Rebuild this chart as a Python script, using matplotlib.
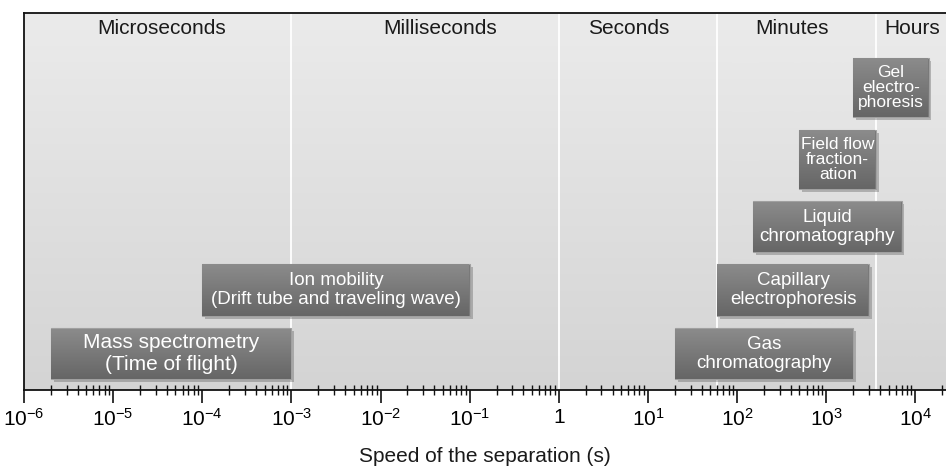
import numpy as np
import matplotlib
matplotlib.use("Agg")
import matplotlib.pyplot as plt
from matplotlib.patches import Rectangle
from matplotlib.ticker import FixedLocator, LogLocator, FuncFormatter, NullFormatter
import matplotlib.patheffects as pe

plt.rcParams['font.family'] = ['Liberation Sans', 'DejaVu Sans']
plt.rcParams['mathtext.fontset'] = 'custom'
plt.rcParams['mathtext.rm'] = 'Liberation Sans'
plt.rcParams['mathtext.it'] = 'Liberation Sans'
plt.rcParams['mathtext.bf'] = 'Liberation Sans'

# separation techniques and the time range (s) each one covers
methods = ["Mass spectrometry\n(Time of flight)",
           "Ion mobility\n(Drift tube and traveling wave)",
           "Gas\nchromatography",
           "Capillary\nelectrophoresis",
           "Liquid\nchromatography",
           "Field flow\nfraction-\nation",
           "Gel\nelectro-\nphoresis"]
t_min = [2e-6, 1e-4, 20, 60, 150, 500, 2000]
t_max = [1e-3, 1e-1, 2000, 3000, 7000, 3600, 14000]

# time scale bands
time_units = ["Microseconds", "Milliseconds", "Seconds", "Minutes", "Hours"]
unit_bounds = [1e-3, 1, 60, 3600]

# layout of the boxes (fraction of axes height) and label settings
rows = [(0.029, 0.164), (0.196, 0.334), (0.029, 0.164), (0.196, 0.334),
        (0.366, 0.501), (0.533, 0.690), (0.724, 0.881)]
text_sizes = [15, 13.5, 13.5, 13.5, 13.5, 12.5, 12.5]
line_gaps = [1.15, 1.15, 1.15, 1.15, 1.15, 1.0, 1.0]
unit_label_x = [3.5e-5, 4.6e-2, 6.1, 417, 9100]

fig = plt.figure(figsize=(9.46, 4.67), dpi=100)
ax = fig.add_axes([24 / 946, 77 / 467, 922 / 946, 377 / 467])
ax.set_xscale('log')
ax.set_xlim(1e-6, 2.2e4)
ax.set_ylim(0, 1)

# background: soft vertical grey gradient
grad = np.linspace(0, 1, 256).reshape(-1, 1)
bg = matplotlib.colors.LinearSegmentedColormap.from_list('bg', ['#d4d4d4', '#ebebeb'])
ax.imshow(grad, extent=(1e-6, 2.2e4, 0, 1), origin='lower', aspect='auto',
          cmap=bg, zorder=0, interpolation='bilinear')

for b in unit_bounds:
    ax.axvline(b, color='white', lw=1.3, zorder=1)

for name, xl in zip(time_units, unit_label_x):
    ax.text(xl, 0.958, name, ha='center', va='center', fontsize=15, color='#1a1a1a', zorder=2)

box_cmap = matplotlib.colors.LinearSegmentedColormap.from_list('box', ['#666666', '#8c8c8c'])
for name, x0, x1, (y0, y1), fs, ls in zip(methods, t_min, t_max, rows, text_sizes, line_gaps):
    rect = Rectangle((x0, y0), x1 - x0, y1 - y0, facecolor='#777777', edgecolor='#a0a0a0',
                     lw=0.8, zorder=3,
                     path_effects=[pe.SimplePatchShadow(offset=(2, -2), alpha=0.35, shadow_rgbFace='#555555'),
                                   pe.Normal()])
    ax.add_patch(rect)
    im = ax.imshow(grad, extent=(x0, x1, y0, y1), origin='lower', aspect='auto',
                   cmap=box_cmap, zorder=4, interpolation='bilinear')
    im.set_clip_path(rect)
    xc = np.sqrt(x0 * x1)
    ax.text(xc, (y0 + y1) / 2, name, ha='center', va='center', fontsize=fs,
            color='white', linespacing=ls, zorder=5)

# axes frame
for side in ['left', 'top', 'bottom']:
    ax.spines[side].set_linewidth(1.3)
    ax.spines[side].set_color('#111111')
ax.spines['right'].set_visible(False)
ax.set_yticks([])

major = [10.0 ** k for k in range(-6, 5)]
ax.xaxis.set_major_locator(FixedLocator(major))
ax.xaxis.set_minor_locator(LogLocator(base=10, subs=np.arange(2, 10), numticks=30))
ax.xaxis.set_minor_formatter(NullFormatter())


def fmt(v, pos):
    e = int(round(np.log10(v)))
    if e == 0:
        return '1'
    return r'$10^{%d}$' % e


ax.xaxis.set_major_formatter(FuncFormatter(fmt))
ax.tick_params(axis='x', which='major', direction='out', length=9, width=1.2,
               labelsize=15, pad=4, color='#111111')
ax.tick_params(axis='x', which='minor', direction='inout', length=7, width=1.0, color='#111111')
ax.set_xlabel('Speed of the separation (s)', fontsize=15, labelpad=12, color='#1a1a1a')

fig.savefig('out.png', dpi=100)
